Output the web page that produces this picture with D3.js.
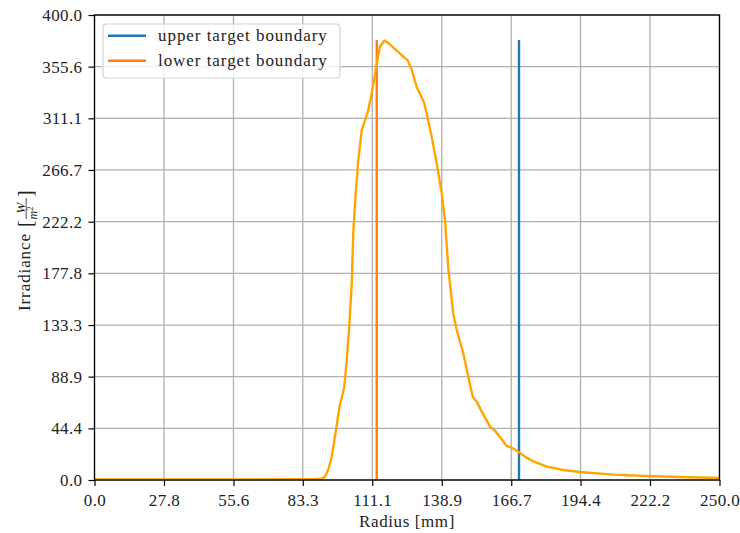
<!DOCTYPE html>
<html>
<head>
<meta charset="utf-8">
<script src="https://cdn.jsdelivr.net/npm/d3@7"></script>
<style>
  html, body { margin: 0; padding: 0; background: #fff; }
  svg text { font-family: "Liberation Serif", "Times New Roman", serif !important; fill: #222; }
</style>
</head>
<body>
<svg id="chart" width="740" height="533"></svg>
<script>
// ---- data ----
const radius = [0, 20, 40, 60, 80, 88, 91, 92.2, 93.5, 94.9, 96.6, 97.9, 99.9, 100.9, 101.9,
  102.9, 103.5, 104.3, 105.5, 106.9, 109.5, 110.9, 112.9, 114.2, 115.9, 117.5, 121.5, 125.3,
  126.9, 128.9, 131.8, 132.9, 134.9, 136.9, 138.9, 140.2, 141.5, 143.5, 144.9, 147.5, 149.5,
  151.3, 152.9, 154.9, 158.2, 160.2, 162.9, 164.9, 166.9, 169.5, 172.2, 175.5, 181, 187.5,
  194.2, 207.5, 220.9, 234.2, 250];
const irradiance = [0.5, 0.5, 0.5, 0.5, 0.6, 0.8, 1.2, 2.8, 9, 20, 43, 61.7, 80, 103, 132,
  169, 212, 241, 275, 301, 318, 332.6, 358, 372.7, 378, 376, 368, 361, 352.7, 338, 325, 315,
  295, 272, 246.6, 223.7, 183, 143, 129, 109, 89, 71.7, 67.4, 58.8, 45.9, 42.4, 35, 29.2,
  27.8, 24.4, 20, 16, 11.5, 8.6, 6.9, 4.6, 3.4, 2.6, 1.7];
const upperBoundary = { r: 169.8, top: 378.5 };
const lowerBoundary = { r: 112.9, top: 378.5 };
const xTickLabels = ["0.0", "27.8", "55.6", "83.3", "111.1", "138.9", "166.7", "194.4", "222.2", "250.0"];
const yTickLabels = ["0.0", "44.4", "88.9", "133.3", "177.8", "222.2", "266.7", "311.1", "355.6", "400.0"];
const legendLabels = ["upper target boundary", "lower target boundary"];

// ---- layout ----
const FONT = '"Liberation Serif", "Times New Roman", serif';
const margin = { left: 94.5, top: 15, right: 20.5, bottom: 53 };
const W = 740, H = 533;
const pw = W - margin.left - margin.right;
const ph = H - margin.top - margin.bottom;

const svg = d3.select("#chart");
const g = svg.append("g").attr("transform", `translate(${margin.left},${margin.top})`);

const x = d3.scaleLinear().domain([0, 250]).range([0, pw]);
const y = d3.scaleLinear().domain([0, 400]).range([ph, 0]);

const xTicks = xTickLabels.map(Number);
const yTicks = yTickLabels.map(Number);

// grid
g.append("g").selectAll("line").data(xTicks).join("line")
  .attr("x1", d => x(d)).attr("x2", d => x(d)).attr("y1", 0).attr("y2", ph)
  .attr("stroke", "#b0b0b0").attr("stroke-width", 1.3);
g.append("g").selectAll("line").data(yTicks).join("line")
  .attr("y1", d => y(d)).attr("y2", d => y(d)).attr("x1", 0).attr("x2", pw)
  .attr("stroke", "#b0b0b0").attr("stroke-width", 1.3);

// data lines
g.append("clipPath").attr("id", "clip").append("rect")
  .attr("x", 0).attr("y", 0).attr("width", pw).attr("height", ph);

g.append("line")
  .attr("x1", x(upperBoundary.r)).attr("x2", x(upperBoundary.r))
  .attr("y1", y(0)).attr("y2", y(upperBoundary.top))
  .attr("stroke", "#1f77b4").attr("stroke-width", 2.4);
g.append("line")
  .attr("x1", x(lowerBoundary.r)).attr("x2", x(lowerBoundary.r))
  .attr("y1", y(0)).attr("y2", y(lowerBoundary.top))
  .attr("stroke", "#ff7f0e").attr("stroke-width", 2.4);

const line = d3.line().x((d, i) => x(radius[i])).y(d => y(d));
g.append("path").datum(irradiance)
  .attr("d", line)
  .attr("fill", "none").attr("stroke", "#ffa500").attr("stroke-width", 2.4)
  .attr("stroke-linejoin", "round")
  .attr("clip-path", "url(#clip)");

// axes
const xAxis = d3.axisBottom(x).tickValues(xTicks).tickFormat((d, i) => xTickLabels[i])
  .tickSizeInner(6).tickSizeOuter(0).tickPadding(5);
const yAxis = d3.axisLeft(y).tickValues(yTicks).tickFormat((d, i) => yTickLabels[i])
  .tickSizeInner(6).tickSizeOuter(0).tickPadding(6);

const gx = g.append("g").attr("transform", `translate(0,${ph})`).call(xAxis);
const gy = g.append("g").call(yAxis);
[gx, gy].forEach(a => {
  a.attr("font-family", null).attr("font-size", null);
  a.select(".domain").remove();
  a.selectAll(".tick line").attr("stroke", "#000").attr("stroke-width", 1.2);
  a.selectAll(".tick text").attr("font-size", 17).attr("fill", "#222")
    .style("font-family", FONT).style("letter-spacing", "0.4px");
});
gx.selectAll(".tick text").attr("dy", "0.9em");

// spines
g.append("rect").attr("x", 0).attr("y", 0).attr("width", pw).attr("height", ph)
  .attr("fill", "none").attr("stroke", "#000").attr("stroke-width", 1.3);

// axis labels
svg.append("text").attr("x", 407).attr("y", 527).attr("text-anchor", "middle")
  .attr("font-size", 17).style("font-family", FONT).style("letter-spacing", "0.6px").text("Radius [mm]");

const yl = svg.append("g").attr("transform", "translate(30,250) rotate(-90)");
yl.append("text").attr("x", -61).attr("y", 0).attr("font-size", 17).style("font-family", FONT)
  .style("letter-spacing", "0.9px").text("Irradiance");
// bracket + fraction
yl.append("text").attr("x", 23).attr("y", 2).attr("font-size", 20).style("font-family", FONT).text("[");
yl.append("text").attr("x", 42).attr("y", -5.5).attr("font-size", 13).style("font-family", FONT)
  .attr("text-anchor", "middle").style("font-style", "italic").text("W");
yl.append("line").attr("x1", 31).attr("x2", 52).attr("y1", -3.8).attr("y2", -3.8)
  .attr("stroke", "#222").attr("stroke-width", 0.8);
const den = yl.append("text").attr("x", 37).attr("y", 6.5).attr("font-size", 12)
  .style("font-family", FONT).attr("text-anchor", "middle").style("font-style", "italic");
den.append("tspan").text("m");
den.append("tspan").attr("font-size", 8.5).attr("dy", -4).style("font-style", "normal").text("2");
yl.append("text").attr("x", 53).attr("y", 2).attr("font-size", 20).style("font-family", FONT).text("]");

// legend
const lg = svg.append("g").attr("transform", "translate(103,24)");
lg.append("rect").attr("x", 0).attr("y", 0).attr("width", 237).attr("height", 54)
  .attr("rx", 3.5).attr("fill", "rgba(255,255,255,0.8)").attr("stroke", "#d3d3d3").attr("stroke-width", 1.2);
const legColors = ["#1f77b4", "#ff7f0e"];
legendLabels.forEach((lab, i) => {
  const yy = 11.7 + i * 25;
  lg.append("line").attr("x1", 5).attr("x2", 43).attr("y1", yy).attr("y2", yy)
    .attr("stroke", legColors[i]).attr("stroke-width", 2.4);
  lg.append("text").attr("x", 55).attr("y", yy + 5.5).attr("font-size", 17).style("font-family", FONT)
    .style("letter-spacing", "0.95px").text(lab);
});
</script>
</body>
</html>
